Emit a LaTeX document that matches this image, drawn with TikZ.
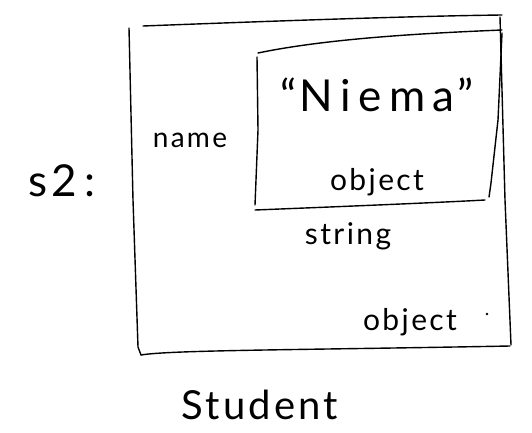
\documentclass[tikz,border=0pt]{standalone}
\usepackage{fontspec}
\setmainfont{Lato}
\begin{document}
\begin{tikzpicture}[x=1pt,y=-1pt,
  pen/.style={line width=1.4pt, line cap=round, line join=round, black},
  hand/.style={inner sep=0pt, font=\fontsize{#1}{#1}\selectfont\addfontfeature{LetterSpace=8}},
  hand/.default=20]
\useasboundingbox (0,0) rectangle (532,433);

% outer object box (sketched by hand)
\draw[pen] (143,26) .. controls (300,20) and (420,16) .. (502,15);
\draw[pen] (129,28) -- (133,200) -- (138,347) -- (141,355);
\draw[pen] (141,355) .. controls (170,350) and (300,350) .. (510,346);
\draw[pen] (500,17) -- (505,200) -- (511,345);

% inner object box
\draw[pen] (258,53) .. controls (330,38) and (430,33) .. (502,30);
\draw[pen] (257,57) -- (258,130) -- (255,205);
\draw[pen] (255,210) .. controls (330,207) and (430,203) .. (485,200);
\draw[pen] (502,33) -- (498,120) -- (491,183) -- (489,197);

% labels
\node[hand=44] (var) at (62,181) {s2\,:};
\node[hand=28] (field) at (190,140) {name};
\node[hand=44] (value) at (377,95) {``N\,i\,e\,m\,a''};
\node[hand=30] (innerkind) at (377,182) {object};
\node[hand=30] (innertype) at (348,236) {string};
\node[hand=30] (outerkind) at (410,322) {object};
\fill (487,314) circle (1.3);
\node[hand=40] (outertype) at (260,405) {Student};
\end{tikzpicture}
\end{document}
